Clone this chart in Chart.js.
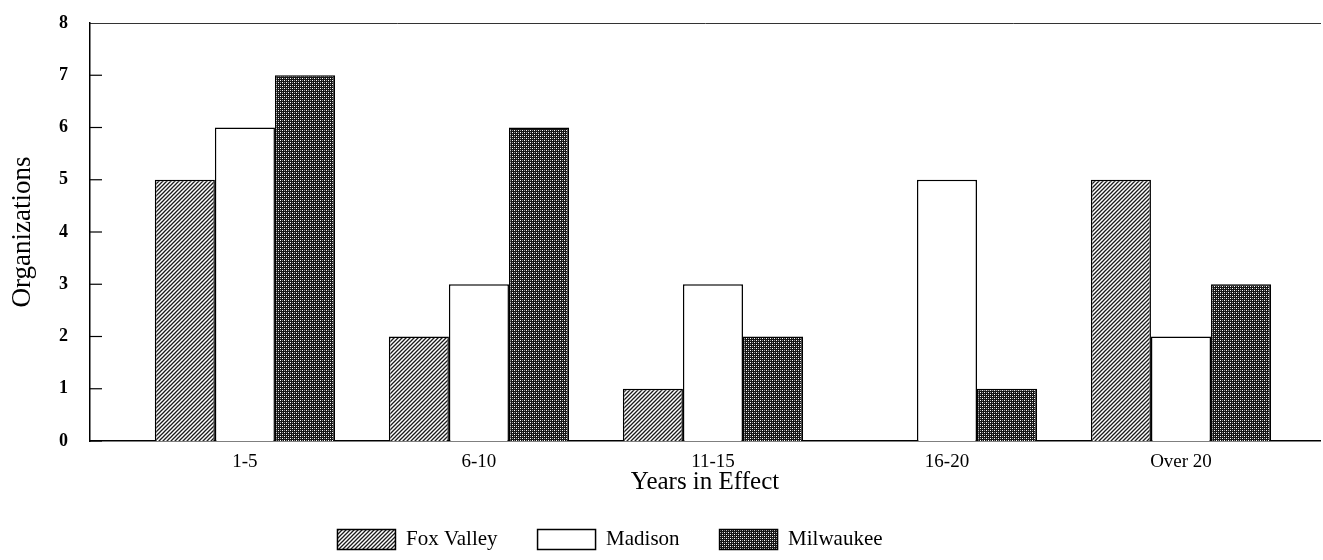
<!DOCTYPE html>
<html>
<head>
<meta charset="utf-8">
<script src="https://cdn.jsdelivr.net/npm/chart.js@4.4.1/dist/chart.umd.min.js"></script>
<style>
  html, body { margin: 0; padding: 0; background: #fff; }
  #wrap { width: 1323px; height: 560px; }
</style>
</head>
<body>
<div id="wrap"><canvas id="myChart"></canvas></div>
<script>
'use strict';

// 데이터
const categories = ['1-5', '6-10', '11-15', '16-20', 'Over 20'];
const foxValley = [5, 2, 1, 0, 5];
const madison = [6, 3, 3, 5, 2];
const milwaukee = [7, 6, 2, 1, 3];
const yMax = 8;

const SERIF = '"Liberation Serif", "Times New Roman", serif';

// 빗금 패턴 (Fox Valley)
function makeHatch() {
    const c = document.createElement('canvas');
    c.width = 4; c.height = 4;
    const g = c.getContext('2d');
    g.fillStyle = '#fff';
    g.fillRect(0, 0, 4, 4);
    g.strokeStyle = '#1a1a1a';
    g.lineWidth = 1.3;
    g.beginPath();
    g.moveTo(-1, 5); g.lineTo(5, -1);
    g.moveTo(-1, 1); g.lineTo(1, -1);
    g.moveTo(3, 5); g.lineTo(5, 3);
    g.stroke();
    return g.createPattern(c, 'repeat');
}

// 점무늬 패턴 (Milwaukee)
function makeDots() {
    const c = document.createElement('canvas');
    c.width = 4; c.height = 4;
    const g = c.getContext('2d');
    g.fillStyle = '#151515';
    g.fillRect(0, 0, 4, 4);
    g.fillStyle = '#fff';
    g.fillRect(0, 0, 1, 1);
    g.fillRect(2, 2, 1, 1);
    g.fillStyle = '#999';
    g.fillRect(2, 0, 1, 1);
    g.fillRect(0, 2, 1, 1);
    return g.createPattern(c, 'repeat');
}

// y축 안쪽 눈금
const innerTicks = {
    id: 'innerTicks',
    afterDraw(chart) {
        const y = chart.scales.y;
        const ctx = chart.ctx;
        ctx.save();
        ctx.strokeStyle = '#000';
        ctx.lineWidth = 1.2;
        for (let v = 0; v < yMax; v++) {
            const py = y.getPixelForValue(v);
            ctx.beginPath();
            ctx.moveTo(y.right, py);
            ctx.lineTo(y.right + 12, py);
            ctx.stroke();
        }
        ctx.restore();
    }
};

// 범례 위치 살짝 왼쪽으로
const legendShift = {
    id: 'legendShift',
    afterLayout(chart) {
        chart.legend.left -= 50;
        chart.legend.right -= 50;
    }
};

const data = {
    datasets: [
        {
            label: 'Fox Valley',
            data: foxValley.map((v, i) => ({ x: i, y: v })),
            backgroundColor: makeHatch(),
            borderColor: '#000',
            borderWidth: 1.5
        },
        {
            label: 'Madison',
            data: madison.map((v, i) => ({ x: i, y: v })),
            backgroundColor: '#fff',
            borderColor: '#000',
            borderWidth: 1.5
        },
        {
            label: 'Milwaukee',
            data: milwaukee.map((v, i) => ({ x: i, y: v })),
            backgroundColor: makeDots(),
            borderColor: '#000',
            borderWidth: 1.5
        }
    ]
};

const config = {
    type: 'bar',
    data,
    options: {
        responsive: true,
        maintainAspectRatio: false,
        animation: false,
        categoryPercentage: 0.77,
        barPercentage: 1.0,
        layout: { padding: { top: 23, right: 3, left: 0, bottom: 0 } },
        plugins: {
            tooltip: { enabled: false },
            legend: {
                position: 'bottom',
                labels: {
                    boxWidth: 58,
                    boxHeight: 20,
                    padding: 40,
                    color: '#000',
                    font: { family: SERIF, size: 21 }
                }
            }
        },
        scales: {
            x: {
                type: 'linear',
                offset: false,
                min: -0.662,
                max: 4.594,
                afterBuildTicks(scale) {
                    scale.ticks = categories.map((_, i) => ({ value: i }));
                },
                afterFit(scale) {
                    scale.height = 48;
                },
                ticks: {
                    color: '#000',
                    padding: 12,
                    maxRotation: 0,
                    font: { family: SERIF, size: 19, lineHeight: 1 },
                    callback: (v) => categories[v]
                },
                grid: { display: false, drawTicks: false, offset: false },
                border: { display: true, color: '#000', width: 1.5 },
                title: {
                    display: true,
                    text: 'Years in Effect',
                    color: '#000',
                    padding: { top: 0, bottom: -6 },
                    font: { family: SERIF, size: 25, lineHeight: 1 }
                }
            },
            // 위쪽 점선 (8 위치)
            top: {
                type: 'linear',
                position: 'top',
                min: -0.662,
                max: 4.594,
                afterFit(scale) { scale.height = 0; },
                ticks: { display: false },
                grid: { display: false, drawTicks: false },
                border: { display: true, color: '#333', width: 1, dash: [4, 9] }
            },
            y: {
                min: 0,
                max: yMax,
                afterFit(scale) {
                    scale.width = 90;
                    scale.paddingTop = 10;
                    scale.paddingBottom = 10;
                },
                ticks: {
                    stepSize: 1,
                    color: '#000',
                    padding: 22,
                    font: { family: SERIF, size: 18, weight: 'bold' }
                },
                grid: { display: false, drawTicks: false },
                border: { display: true, color: '#000', width: 1.5 },
                title: {
                    display: true,
                    text: 'Organizations',
                    color: '#000',
                    padding: { top: 7, bottom: 0 },
                    font: { family: SERIF, size: 27 }
                }
            }
        }
    },
    plugins: [innerTicks, legendShift]
};

const myChart = new Chart(document.getElementById('myChart'), config);
</script>
</body>
</html>
